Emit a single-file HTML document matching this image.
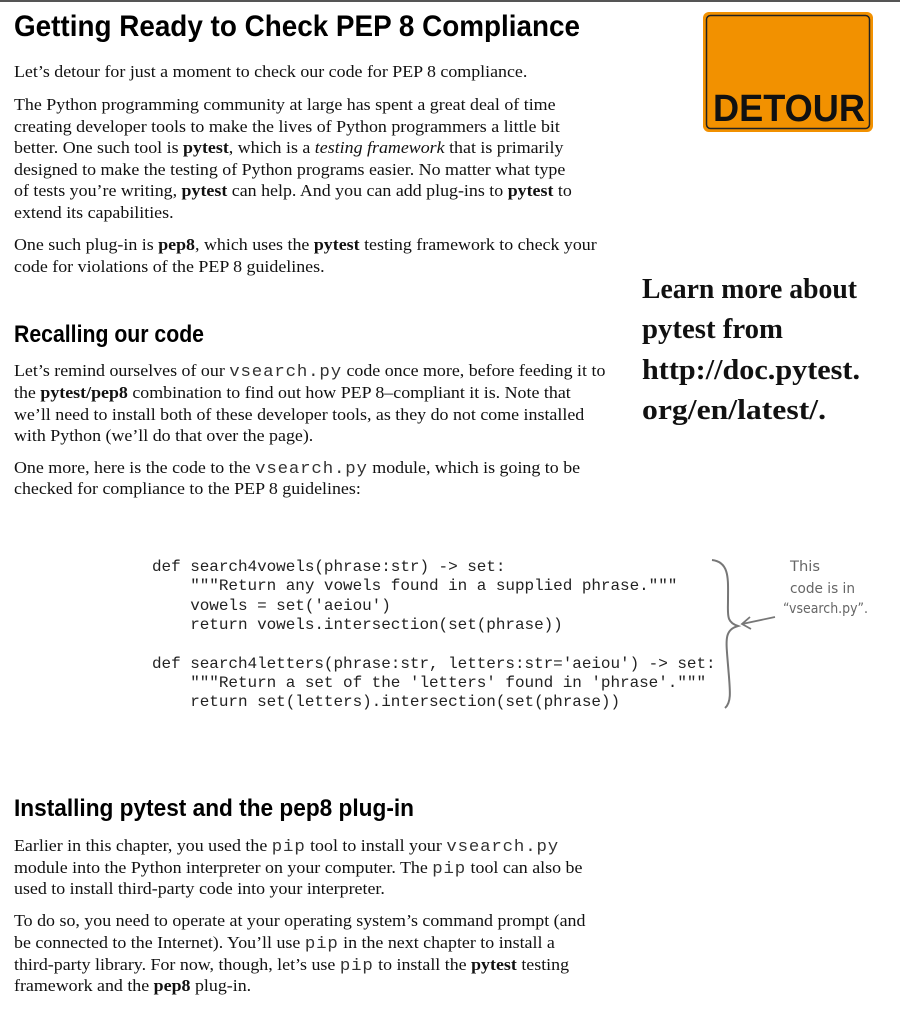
<!DOCTYPE html>
<html><head><meta charset="utf-8"><style>
html,body{margin:0;padding:0;background:#fff;}
body{width:900px;height:1009px;position:relative;overflow:hidden;}
.l{position:absolute;left:14px;white-space:nowrap;font:17px/21px "Liberation Serif",serif;color:#111;transform:scaleX(1.053);transform-origin:0 0;}
.m{font-family:"Liberation Mono",monospace;font-size:16.5px;letter-spacing:0.8px;color:#333;}
.c{position:absolute;left:152px;white-space:pre;font:16px/19px "Liberation Mono",monospace;letter-spacing:-0.05px;color:#222;}
svg{position:absolute;left:0;top:0;}
</style></head><body>
<div style="position:absolute;left:0;top:0;width:900px;height:2px;background:#555"></div>
<svg width="900" height="1009" viewBox="0 0 900 1009">
<g font-family="Liberation Sans, sans-serif" font-weight="bold" fill="#000">
<text x="14" y="36" font-size="30" textLength="566" lengthAdjust="spacingAndGlyphs">Getting Ready to Check PEP 8 Compliance</text>
<text x="14" y="342" font-size="24" textLength="190" lengthAdjust="spacingAndGlyphs">Recalling our code</text>
<text x="14" y="816" font-size="24" textLength="400" lengthAdjust="spacingAndGlyphs">Installing pytest and the pep8 plug-in</text>
</g>
<rect x="703" y="12" width="170" height="120" rx="6" fill="#f29100"/>
<rect x="706.5" y="15.5" width="163" height="113" rx="4" fill="none" stroke="#222" stroke-width="1.5"/>
<text x="713" y="121" font-family="Liberation Sans, sans-serif" font-weight="bold" font-size="38" textLength="152" lengthAdjust="spacingAndGlyphs" fill="#111">DETOUR</text>
<g font-family="Liberation Serif, serif" font-weight="bold" font-size="29" fill="#111">
<text x="642" y="298" textLength="215" lengthAdjust="spacingAndGlyphs">Learn more about</text>
<text x="642" y="338" textLength="141" lengthAdjust="spacingAndGlyphs">pytest from</text>
<text x="642" y="379" textLength="218" lengthAdjust="spacingAndGlyphs">http://doc.pytest.</text>
<text x="642" y="419" textLength="184" lengthAdjust="spacingAndGlyphs">org/en/latest/.</text>
</g>
<g font-family="DejaVu Sans, sans-serif" font-size="14" fill="#666">
<text x="790" y="571" textLength="30" lengthAdjust="spacingAndGlyphs">This</text>
<text x="790" y="593" textLength="65" lengthAdjust="spacingAndGlyphs">code is in</text>
<text x="783" y="613" textLength="85" lengthAdjust="spacingAndGlyphs">“vsearch.py”.</text>
</g>
<path d="M712 560 C730 562 728 580 728 600 C728 615 726 622 738 626 C724 630 726 640 728 665 C730 690 732 702 725 708" fill="none" stroke="#777" stroke-width="2"/>
<path d="M775 617 L742 624 M750 617 L742 624 L751 629" fill="none" stroke="#777" stroke-width="1.8"/>
</svg>

<div class="l" style="top:61px">Let’s detour for just a moment to check our code for PEP 8 compliance.</div>
<div class="l" style="top:94px">The Python programming community at large has spent a great deal of time</div>
<div class="l" style="top:116px">creating developer tools to make the lives of Python programmers a little bit</div>
<div class="l" style="top:137px">better. One such tool is <b>pytest</b>, which is a <i>testing framework</i> that is primarily</div>
<div class="l" style="top:159px">designed to make the testing of Python programs easier. No matter what type</div>
<div class="l" style="top:180px">of tests you’re writing, <b>pytest</b> can help. And you can add plug-ins to <b>pytest</b> to</div>
<div class="l" style="top:202px">extend its capabilities.</div>
<div class="l" style="top:234px">One such plug-in is <b>pep8</b>, which uses the <b>pytest</b> testing framework to check your</div>
<div class="l" style="top:256px">code for violations of the PEP 8 guidelines.</div>

<div class="l" style="top:360px">Let’s remind ourselves of our <span class="m">vsearch.py</span> code once more, before feeding it to</div>
<div class="l" style="top:382px">the <b>pytest/pep8</b> combination to find out how PEP 8–compliant it is. Note that</div>
<div class="l" style="top:404px">we’ll need to install both of these developer tools, as they do not come installed</div>
<div class="l" style="top:425px">with Python (we’ll do that over the page).</div>
<div class="l" style="top:457px">One more, here is the code to the <span class="m">vsearch.py</span> module, which is going to be</div>
<div class="l" style="top:478px">checked for compliance to the PEP 8 guidelines:</div>

<div class="c" style="top:558px">def search4vowels(phrase:str) -&gt; set:</div>
<div class="c" style="top:577px">    """Return any vowels found in a supplied phrase."""</div>
<div class="c" style="top:597px">    vowels = set('aeiou')</div>
<div class="c" style="top:616px">    return vowels.intersection(set(phrase))</div>
<div class="c" style="top:655px">def search4letters(phrase:str, letters:str='aeiou') -&gt; set:</div>
<div class="c" style="top:674px">    """Return a set of the 'letters' found in 'phrase'."""</div>
<div class="c" style="top:693px">    return set(letters).intersection(set(phrase))</div>

<div class="l" style="top:835px">Earlier in this chapter, you used the <span class="m">pip</span> tool to install your <span class="m">vsearch.py</span></div>
<div class="l" style="top:857px">module into the Python interpreter on your computer. The <span class="m">pip</span> tool can also be</div>
<div class="l" style="top:878px">used to install third-party code into your interpreter.</div>
<div class="l" style="top:910px">To do so, you need to operate at your operating system’s command prompt (and</div>
<div class="l" style="top:932px">be connected to the Internet). You’ll use <span class="m">pip</span> in the next chapter to install a</div>
<div class="l" style="top:954px">third-party library. For now, though, let’s use <span class="m">pip</span> to install the <b>pytest</b> testing</div>
<div class="l" style="top:975px">framework and the <b>pep8</b> plug-in.</div>
</body></html>
